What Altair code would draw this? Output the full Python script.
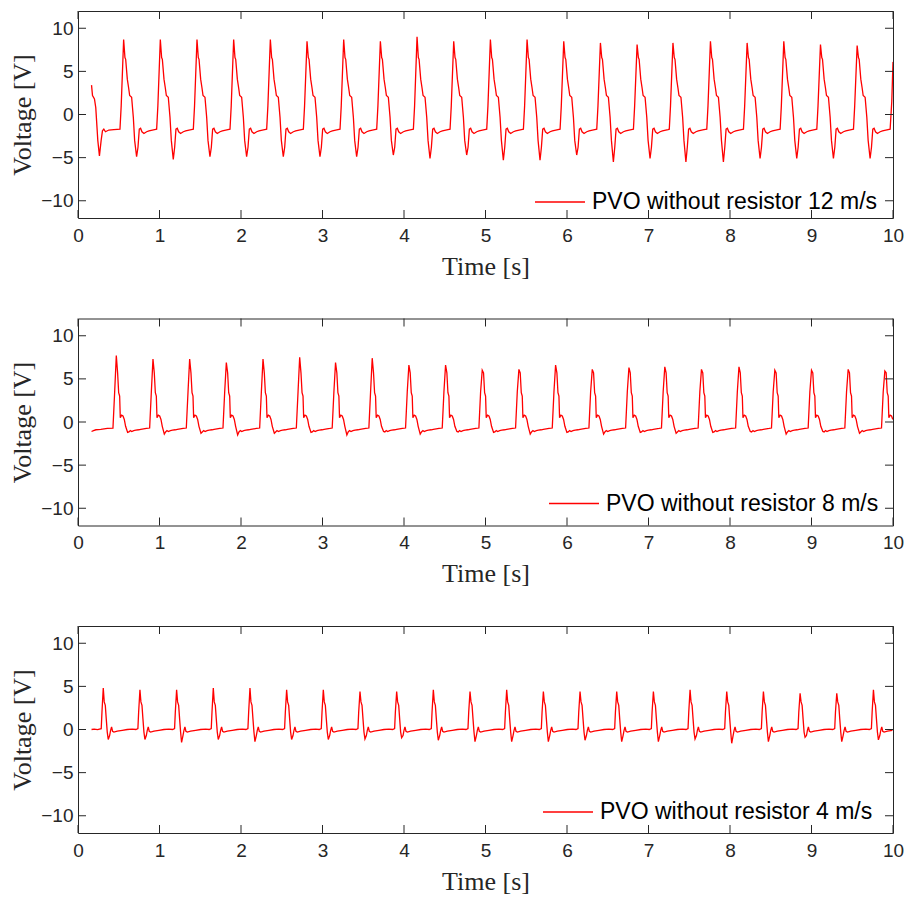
import altair as alt
import pandas as pd

# ---------------- data ----------------
x_ticks = [0, 1, 2, 3, 4, 5, 6, 7, 8, 9, 10]
y_ticks = [-10, -5, 0, 5, 10]

labels = ["PVO without resistor 12 m/s", "PVO without resistor 8 m/s", "PVO without resistor 4 m/s"]

# 12 m/s
p12_peak_t = [0.56, 1.01, 1.46, 1.91, 2.36, 2.81, 3.26, 3.71, 4.16, 4.61, 5.06,
              5.51, 5.96, 6.41, 6.86, 7.30, 7.76, 8.21, 8.66, 9.11, 9.56]
p12_peak_v = [8.7, 8.7, 8.7, 8.7, 8.7, 8.5, 8.7, 8.5, 9.0, 8.5, 8.7,
              8.7, 8.5, 8.3, 8.1, 8.3, 8.5, 8.3, 8.5, 8.1, 8.0]
p12_trough_v = [-4.9, -5.2, -4.9, -4.9, -4.9, -4.9, -4.9, -4.7, -5.1, -4.7, -5.3,
                -5.3, -4.7, -5.5, -5.1, -5.5, -5.5, -5.1, -5.1, -5.1, -5.1]
p12_shape_dt = [-0.045, -0.03, 0.0, 0.016, 0.025, 0.045, 0.061, 0.074, 0.098, 0.119, 0.135,
                0.159, 0.176, 0.192, 0.208, 0.225, 0.249, 0.282, 0.311, 0.352, 0.38]
p12_shape_v = [-1.7, 1.0, "P", 6.6, 6.4, 4.1, 3.1, 2.2, 2.0, -0.35, -3.0,
               "T", -3.8, -1.7, -1.6, -2.0, -2.2, -2.0, -1.9, -1.8, -1.75]
p12_head_t = [0.166, 0.178, 0.202, 0.218, 0.243, 0.263, 0.284, 0.30, 0.317, 0.337, 0.378, 0.44]
p12_head_v = [3.4, 2.2, 1.8, 0.8, -3.0, -4.8, -3.0, -1.9, -1.7, -2.0, -1.8, -1.75]
p12_tail_t = [9.965, 9.985, 10.0]
p12_tail_v = [-1.7, 1.5, 6.1]

# 8 m/s
p8_peak_t = [0.47, 0.92, 1.37, 1.82, 2.27, 2.72, 3.16, 3.61, 4.06, 4.51, 4.96,
             5.41, 5.86, 6.31, 6.76, 7.20, 7.65, 8.11, 8.55, 9.00, 9.45, 9.90]
p8_peak_v = [7.7, 7.3, 7.3, 6.9, 7.3, 7.5, 6.9, 7.4, 6.6, 6.6, 6.0,
             6.1, 6.6, 6.1, 6.3, 6.4, 6.1, 6.4, 6.0, 6.0, 6.1, 5.9]
p8_trough_v = [-1.2, -1.4, -1.3, -1.5, -1.3, -1.2, -1.5, -1.1, -1.4, -1.1, -1.2,
               -1.4, -1.2, -1.4, -1.2, -1.3, -1.2, -1.1, -1.4, -1.1, -1.3, -1.2]
p8_shape_dt = [-0.041, -0.02, 0.0, 0.016, 0.029, 0.041, 0.049, 0.065, 0.082, 0.098, 0.114,
               0.139, 0.155, 0.172, 0.19, 0.213, 0.24, 0.274, 0.30, 0.335, 0.37]
p8_shape_v = [-0.7, 3.5, "P", 5.7, 3.4, 3.0, 0.5, 0.8, 0.7, 0.3, -0.5,
              "T", -1.15, -1.0, -1.1, -1.0, -0.95, -0.9, -0.85, -0.8, -0.75]
p8_head_t = [0.166, 0.19, 0.22, 0.28, 0.36]
p8_head_v = [-1.1, -1.0, -0.9, -0.85, -0.75]
p8_tail_t = []
p8_tail_v = []

# 4 m/s
p4_peak_t = [0.31, 0.76, 1.21, 1.66, 2.11, 2.56, 3.01, 3.46, 3.91, 4.36, 4.81,
             5.26, 5.71, 6.16, 6.61, 7.06, 7.51, 7.96, 8.41, 8.86, 9.31, 9.76]
p4_peak_v = [4.8, 4.6, 4.6, 4.8, 4.8, 4.6, 4.6, 4.4, 4.4, 4.6, 4.4,
             4.6, 4.4, 4.4, 4.4, 4.4, 4.6, 4.4, 4.4, 4.2, 4.2, 4.6]
p4_trough_v = [-1.15, -1.15, -1.5, -1.15, -1.4, -1.15, -1.15, -1.1, -0.95, -1.25, -1.4,
               -1.4, -1.4, -1.25, -1.4, -1.4, -1.1, -1.6, -1.4, -0.9, -1.4, -1.2]
p4_shape_dt = [-0.025, -0.016, 0.0, 0.012, 0.025, 0.037, 0.049, 0.061, 0.078, 0.090, 0.102,
               0.114, 0.131, 0.172, 0.233, 0.294, 0.356, 0.40]
p4_shape_v = [0.1, 2.0, "P", 3.2, 2.8, 1.2, -0.3, "T", -0.7, -0.1, 0.3,
              -0.2, -0.3, -0.2, -0.1, 0.0, 0.05, 0.0]
p4_head_t = [0.166, 0.2, 0.24]
p4_head_v = [0.0, 0.05, -0.02]
p4_tail_t = []
p4_tail_v = []


def build(name, head_t, head_v, peak_t, peak_v, trough_v, sdt, sv, tail_t, tail_v):
    rows = [(t, v) for t, v in zip(head_t, head_v)]
    for tp, pk, tr in zip(peak_t, peak_v, trough_v):
        for d, val in zip(sdt, sv):
            t = round(tp + d, 4)
            if t > 10.0:
                break
            y = pk if val == "P" else (tr if val == "T" else val)
            rows.append((t, y))
    rows += [(t, v) for t, v in zip(tail_t, tail_v)]
    df = pd.DataFrame(rows, columns=["t", "V"])
    df["series"] = name
    return df


dfs = [
    build(labels[0], p12_head_t, p12_head_v, p12_peak_t, p12_peak_v, p12_trough_v,
          p12_shape_dt, p12_shape_v, p12_tail_t, p12_tail_v),
    build(labels[1], p8_head_t, p8_head_v, p8_peak_t, p8_peak_v, p8_trough_v,
          p8_shape_dt, p8_shape_v, p8_tail_t, p8_tail_v),
    build(labels[2], p4_head_t, p4_head_v, p4_peak_t, p4_peak_v, p4_trough_v,
          p4_shape_dt, p4_shape_v, p4_tail_t, p4_tail_v),
]

legend_x = [456, 470, 464]
legend_y = [165, 159, 160]

W, H = 815, 207
TICK = 8
FRAME = "#262626"

xt = pd.DataFrame({"t": x_ticks})
yt = pd.DataFrame({"V": y_ticks})

xscale = alt.Scale(domain=[0, 10], nice=False, zero=False)
yscale = alt.Scale(domain=[-12, 12], nice=False, zero=False)


def xenc():
    return alt.X("t:Q", scale=xscale, title="Time [s]",
                 axis=alt.Axis(values=x_ticks, format="d", title="Time [s]", labelFlush=False))


def yenc():
    return alt.Y("V:Q", scale=yscale, title="Voltage [V]",
                 axis=alt.Axis(values=y_ticks, format="d", title="Voltage [V]", labelFlush=False))


def panel(df, lx, ly):
    line = alt.Chart(df).mark_line(strokeWidth=1.3, clip=True).encode(
        x=xenc(),
        y=yenc(),
        color=alt.Color("series:N", scale=alt.Scale(range=["#ff0000"]),
                        legend=alt.Legend(title=None, orient="none", legendX=lx, legendY=ly,
                                          symbolType="stroke", symbolSize=2500,
                                          symbolStrokeWidth=1.3, labelFont="Liberation Sans",
                                          labelFontSize=23, labelColor="#000000",
                                          labelOffset=6, padding=0, rowPadding=0,
                                          labelLimit=400)),
    )
    xb = alt.Chart(xt).mark_rule(color=FRAME, strokeWidth=1).encode(
        x=xenc(), y=alt.value(H), y2=alt.value(H - TICK))
    xtp = alt.Chart(xt).mark_rule(color=FRAME, strokeWidth=1).encode(
        x=xenc(), y=alt.value(0), y2=alt.value(TICK))
    yl = alt.Chart(yt).mark_rule(color=FRAME, strokeWidth=1).encode(
        y=yenc(), x=alt.value(0), x2=alt.value(TICK))
    yr = alt.Chart(yt).mark_rule(color=FRAME, strokeWidth=1).encode(
        y=yenc(), x=alt.value(W - TICK), x2=alt.value(W))
    return alt.layer(line, xb, xtp, yl, yr).properties(width=W, height=H)


chart = alt.vconcat(*[panel(d, lx, ly) for d, lx, ly in zip(dfs, legend_x, legend_y)],
                    spacing=37.5).resolve_scale(color="independent").resolve_legend(
    color="independent"
).properties(
    padding={"left": 8, "top": 10, "right": 0, "bottom": 0}
).configure_view(
    stroke=FRAME, strokeWidth=1
).configure_axis(
    grid=False, ticks=False, domain=False,
    labelFont="Liberation Sans", labelFontSize=19, labelColor=FRAME, labelPadding=8,
    titleFont="Liberation Serif", titleFontSize=26, titleFontWeight="normal", titleColor=FRAME,
).configure_axisX(titlePadding=8).configure_axisY(labelPadding=5, titlePadding=5.5)

chart.save("out.html", embed_options={"renderer": "svg", "actions": False})
